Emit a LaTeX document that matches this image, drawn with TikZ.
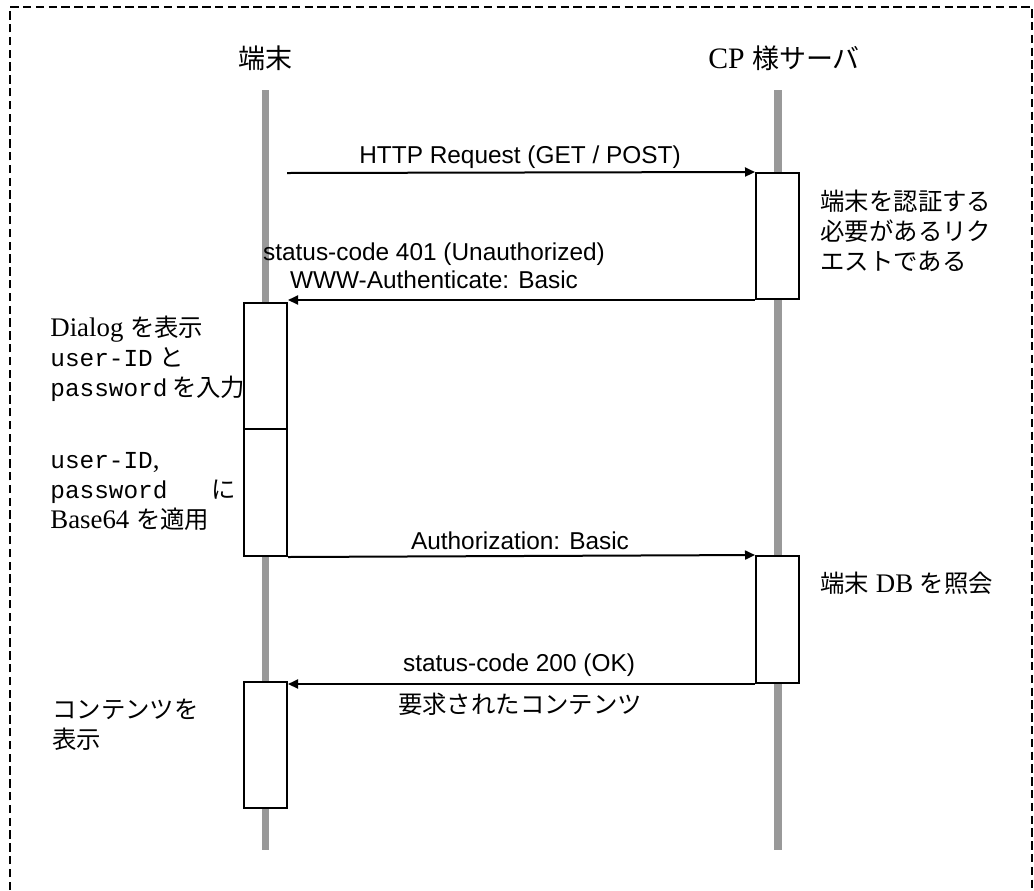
\documentclass[tikz,border=0pt]{standalone}
\usepackage{fontspec}
\setmainfont{Liberation Serif}[Scale=1.1]
\setsansfont{Liberation Sans}
\setmonofont{Liberation Mono}
\newfontfamily\jpfont{Noto Sans CJK JP}
\newcommand{\ja}[1]{{\jpfont #1}}
\usetikzlibrary{arrows.meta}
\usetikzlibrary{positioning}

\tikzset{
  lifeline/.style={line width=3.8pt, black!40},
  actbox/.style={draw, line width=1pt, fill=white, minimum width=21.5pt, inner sep=0pt},
  msg/.style={line width=1pt, -{Triangle[length=5pt, width=4.5pt]}},
  msglabel/.style={font=\sffamily\fontsize{12.2}{14}\selectfont, inner sep=0pt, align=center},
  title/.style={font=\fontsize{13.5}{16}\selectfont, inner sep=0pt},
  plain/.style={font=\fontsize{12.2}{15}\selectfont, inner sep=0pt},
  note/.style={font=\fontsize{12.2}{15}\selectfont, inner sep=0pt, align=left, anchor=north west},
  frame/.style={line width=1.1pt, dash pattern=on 4.2pt off 2.2pt},
}

\begin{document}
\begin{tikzpicture}[x=0.5pt, y=-0.5pt]

      \useasboundingbox (0,0) rectangle (1034,890);

      % outer dashed frame, open at the bottom
      \draw [frame] (10,890) -- (10,7) -- (1032,7) -- (1032,890);

      % participants
      \node [title] (term) at (265,58) {\ja{端末}};
      \node [title] (cp) at (784,58) {CP \ja{様サーバ}};

      \coordinate (termtop) at (265.5,90);
      \coordinate (termend) at (265.5,850);
      \coordinate (cptop) at (778,90);
      \coordinate (cpend) at (778,850);
      \draw [lifeline] (termtop) -- (termend);
      \draw [lifeline] (cptop) -- (cpend);

      % activation boxes
      \node [actbox, minimum height=63pt] (chk) at (777.5,236) {};
      \node [actbox, minimum height=63pt] (dlg) at (265.5,366) {};
      \node [actbox, minimum height=63.5pt] (enc) at (265.5,492.5) {};
      \node [actbox, minimum height=63.5pt] (dbq) at (777.5,619.5) {};
      \node [actbox, minimum height=63pt] (show) at (265.5,745) {};

      % messages
      \coordinate (req) at (287,173);
      \draw [msg] (req) -- (chk.north west);
      \node [msglabel] (reqlbl) at (520,157) {HTTP Request (GET / POST)};

      \draw [msg] (chk.south west) -- (chk.south west -| dlg.east);
      \node [msglabel] (unauth) at (434,266) {status-code 401 (Unauthorized)\\WWW-Authenticate: Basic};

      \draw [msg] (enc.south east) -- (dbq.north west);
      \node [msglabel] (authlbl) at (520,541) {Authorization: Basic};

      \draw [msg] (dbq.south west) -- (dbq.south west -| show.east);
      \node [msglabel] (oklbl) at (519,665) {status-code 200 (OK)};
      \node [plain] (content) at (520,704) {\ja{要求されたコンテンツ}};

      % notes beside the boxes
      \node [note] (chknote) at (820,190) {\ja{端末を認証する}\\\ja{必要があるリク}\\\ja{エストである}};
      \node [note] (dlgnote) at (50,316) {Dialog \ja{を表示}\\{\ttfamily user-ID} \ja{と}\\{\ttfamily password}\,\ja{を入力}};
      \node [note] (encnote) at (50,452) {{\ttfamily user-ID},\\{\ttfamily password}\hspace{22pt}\ja{に}\\Base64 \ja{を適用}};
      \node [note] (dbnote) at (820,572) {\ja{端末} DB \ja{を照会}};
      \node [note] (shownote) at (52,699) {\ja{コンテンツを}\\\ja{表示}};

    \end{tikzpicture}
\end{document}
